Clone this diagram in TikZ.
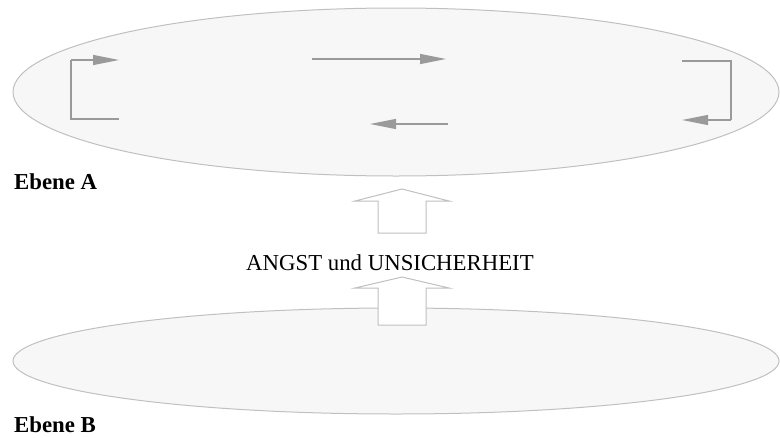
\documentclass[tikz,border=0pt]{standalone}
\usepackage{fontspec}
\setmainfont{Liberation Serif}
\usetikzlibrary{arrows.meta,shapes.geometric}
\definecolor{ellfill}{HTML}{F7F7F7}
\definecolor{elldraw}{HTML}{C0C0C0}
\definecolor{arrgray}{HTML}{9A9A9A}
\tikzset{
  level/.style={ellipse, draw=elldraw, fill=ellfill, line width=1pt, inner sep=0pt},
  flow/.style={draw=arrgray, line width=1.3pt, -{Triangle[length=26pt,width=10pt]}},
  plain/.style={draw=arrgray, line width=1.3pt},
  blockarrow/.style={draw=elldraw, fill=white, line width=1pt, line join=miter},
  lbl/.style={font=\fontsize{22.8}{27}\selectfont\bfseries, inner sep=0pt, anchor=base west},
  txt/.style={font=\fontsize{22.8}{27}\selectfont, inner sep=0pt, anchor=base}
}
\begin{document}
\begin{tikzpicture}[x=1pt,y=-1pt]
\useasboundingbox (0,0) rectangle (780,437);
% levels
\node[level, minimum width=766pt, minimum height=168pt] (ebA) at (396,92) {};
\node[level, minimum width=766pt, minimum height=106pt] (ebB) at (396,361) {};
% labels
\node[lbl] (labA) at (14,189) {Ebene A};
\node[lbl] (labB) at (14,432) {Ebene B};
\node[txt] (angst) at (390,270) {ANGST und UNSICHERHEIT};
% block arrows
\draw[blockarrow] (378,233) -- (378,201) -- (355,201) -- (402,189) -- (449,201) -- (426,201) -- (426,233) -- cycle;
\draw[blockarrow] (378,325) -- (378,288) -- (355,288) -- (402,277) -- (449,288) -- (426,288) -- (426,325) -- cycle;
% small circulation arrows
\draw[plain] (119,119) -- (71,119) -- (71,60);
\draw[flow] (71,60) -- (119,60);
\draw[flow] (312,59) -- (446,59);
\draw[flow] (448,124) -- (370,124);
\draw[plain] (682,61) -- (731,61) -- (731,120);
\draw[flow] (731,120) -- (682,120);
\end{tikzpicture}
\end{document}
